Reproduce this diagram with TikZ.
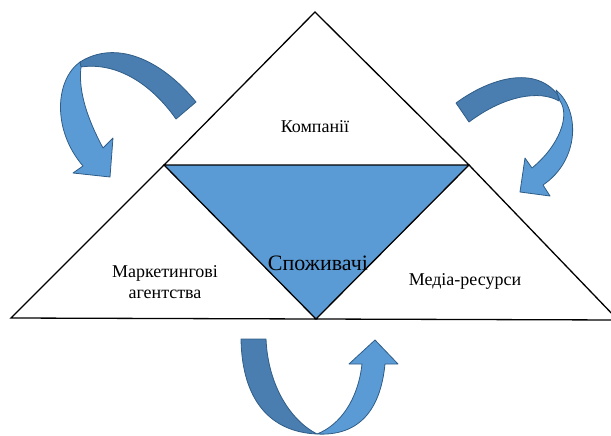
\documentclass[tikz,border=0pt]{standalone}
\usepackage{fontspec}
\setmainfont{Liberation Serif}
\usetikzlibrary{positioning}
\definecolor{lightblue}{HTML}{5B9BD5}
\definecolor{darkblue}{HTML}{4A7EB0}
\definecolor{edgeblue}{HTML}{2F5D88}

\begin{document}
\begin{tikzpicture}[x=1pt, y=-1pt,
    tri/.style={draw=black, line width=1.3pt},
    band/.style={draw=edgeblue, line width=0.8pt, line join=round},
    lbl/.style={font=\fontsize{18}{21}\selectfont, align=center}]
  \useasboundingbox (0,0) rectangle (611,436);
  % corners of the triangles
  \coordinate (top) at (315,12);
  \coordinate (ml) at (164,165);
  \coordinate (mr) at (469,165);
  \coordinate (bl) at (11,318);
  \coordinate (bm) at (316,319);
  \coordinate (br) at (618,320);
  \fill[lightblue] (ml) -- (mr) -- (bm) -- cycle;
  \draw[tri] (top) -- (mr) -- (ml) -- cycle;
  \draw[tri] (ml) -- (bm) -- (bl) -- cycle;
  \draw[tri] (mr) -- (br) -- (bm) -- cycle;

  % arrow top left
  \filldraw[band, fill=darkblue] (176,119) -- (196,102)
    .. controls (160,58) and (115,40) .. (80,62) -- (81,67)
    .. controls (115,62) and (150,82) .. (176,119) -- cycle;
  \filldraw[band, fill=lightblue] (80,62)
    .. controls (55,80) and (52,130) .. (83,166)
    -- (73,173) -- (110,177) -- (113,138) -- (103,148)
    .. controls (88,120) and (78,92) .. (81,67) -- cycle;

  % arrow top right
  \filldraw[band, fill=darkblue] (469,122) -- (456,103)
    .. controls (490,78) and (535,65) .. (558,95) -- (559,101)
    .. controls (540,90) and (505,95) .. (469,122) -- cycle;
  \filldraw[band, fill=lightblue] (556,90)
    .. controls (580,110) and (580,160) .. (543,185)
    -- (550,196) -- (520,192) -- (525,158) -- (532,168)
    .. controls (560,145) and (570,115) .. (560,101) -- cycle;

  % arrow bottom
  \filldraw[band, fill=darkblue] (241,339) -- (266,339)
    .. controls (268,385) and (290,420) .. (317,434)
    .. controls (270,432) and (242,400) .. (241,339) -- cycle;
  \filldraw[band, fill=lightblue] (317,434)
    .. controls (355,436) and (380,415) .. (385,364)
    -- (398,364) -- (375,340) -- (349,364) -- (362,364)
    .. controls (358,400) and (340,425) .. (317,434) -- cycle;

  % labels
  \node[lbl] (company) at (315,127) {Компанії};
  \node[lbl] (agency) at (165,282) {Маркетингові\\агентства};
  \node[lbl, font=\fontsize{22}{24}\selectfont] (consumer) at (318,263) {Споживачі};
  \node[lbl] (media) at (465,281) {Медіа-ресурси};
\end{tikzpicture}
\end{document}
